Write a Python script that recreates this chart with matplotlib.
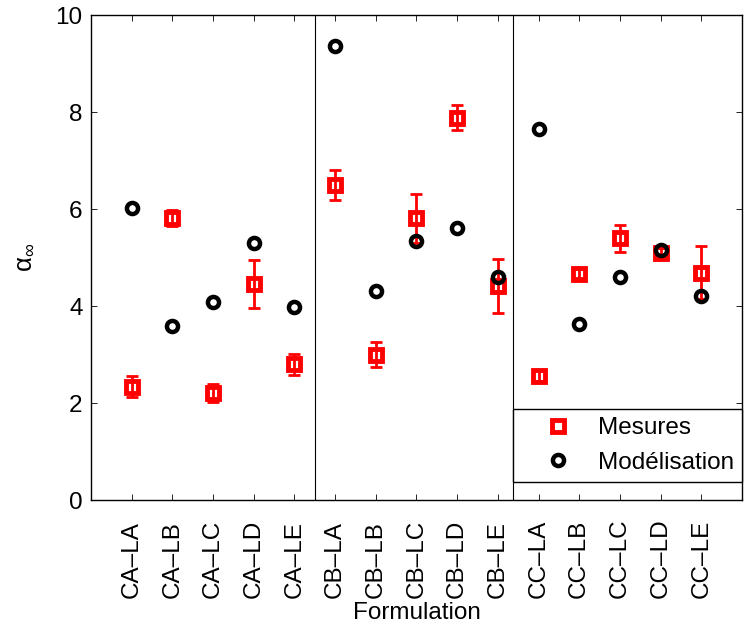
import matplotlib
matplotlib.use("Agg")
from matplotlib import pyplot as plt
import numpy as np

plt.rcParams['font.family'] = ['Liberation Sans', 'DejaVu Sans']
plt.rcParams['mathtext.fontset'] = 'custom'
plt.rcParams['mathtext.rm'] = 'Liberation Sans'
plt.rcParams['mathtext.it'] = 'Liberation Sans:italic'
plt.rcParams['mathtext.default'] = 'regular'

# formulations
labels = ['CA\u2013LA', 'CA\u2013LB', 'CA\u2013LC', 'CA\u2013LD', 'CA\u2013LE',
          'CB\u2013LA', 'CB\u2013LB', 'CB\u2013LC', 'CB\u2013LD', 'CB\u2013LE',
          'CC\u2013LA', 'CC\u2013LB', 'CC\u2013LC', 'CC\u2013LD', 'CC\u2013LE']
# mesures (moyenne + ecart)
mesures = [2.34, 5.82, 2.21, 4.45, 2.80,
           6.49, 3.00, 5.81, 7.88, 4.41,
           2.56, 4.67, 5.40, 5.09, 4.69]
ecart = [0.22, 0.17, 0.18, 0.50, 0.22,
         0.31, 0.25, 0.50, 0.26, 0.56,
         0.10, 0.10, 0.28, 0.10, 0.55]
# modelisation
modele = [6.03, 3.59, 4.09, 5.31, 3.99,
          9.37, 4.32, 5.35, 5.60, 4.59,
          7.65, 3.62, 4.60, 5.15, 4.21]
# separations entre familles
separations = [5.5, 10.38]

x = np.arange(1, len(labels) + 1)

fig = plt.figure(figsize=(7.44, 6.30), dpi=100)
ax = fig.add_axes([0.1223, 0.2063, 0.875, 0.7698])
fs = 17.5

ax.errorbar(x, mesures, yerr=ecart, fmt='none', ecolor='red',
            elinewidth=2.0, capsize=4.2, capthick=2.0, zorder=2)
ax.plot(x, mesures, 's', color='red', mfc='none', ms=8.2, mew=3.5,
        label='Mesures', zorder=3)
ax.plot(x, modele, 'o', color='black', mfc='none', ms=8.0, mew=3.2,
        label='Mod\u00e9lisation', zorder=4)

for s in separations:
    ax.axvline(s, color='black', lw=0.8, zorder=1)

ax.set_xlim(0, 16)
ax.set_ylim(0, 10)
ax.set_yticks([0, 2, 4, 6, 8, 10])
ax.tick_params(direction='in', top=True, right=True, length=4, width=0.6,
               labelsize=fs)
ax.tick_params(axis='y', pad=6)
ax.tick_params(axis='x', pad=70.5)
ax.set_xticks(x)
ax.set_xticklabels(labels, rotation=90, va='bottom', ha='center')
for sp in ax.spines.values():
    sp.set_linewidth(1.0)

ax.set_xlabel('Formulation', fontsize=fs, labelpad=3)
ax.set_ylabel(r'$\alpha_{\infty}$', fontsize=fs + 1, labelpad=14)

x0 = separations[1] / 16
leg = ax.legend(loc='upper left', bbox_to_anchor=(x0, 0.188, 1 - x0, 0.0),
                mode='expand', borderaxespad=0, fontsize=fs, frameon=True,
                fancybox=False, edgecolor='black', framealpha=1,
                borderpad=0.35, labelspacing=0.5, handlelength=3.0,
                handletextpad=0.15)
leg.get_frame().set_linewidth(1.0)

fig.savefig('out.png', dpi=100)
